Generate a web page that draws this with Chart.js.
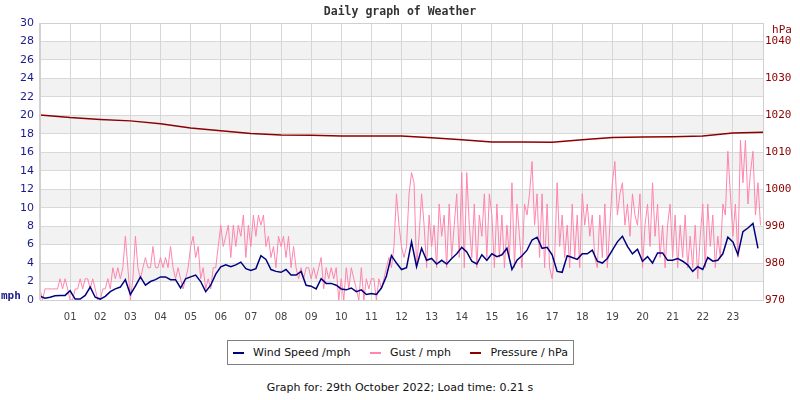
<!DOCTYPE html>
<html>
<head>
<meta charset="utf-8">
<title>Daily graph of Weather</title>
<script src="https://cdn.jsdelivr.net/npm/chart.js@4/dist/chart.umd.min.js"></script>
<style>
  body { margin: 0; background: #fff; width: 800px; height: 400px; position: relative; overflow: hidden; }
  #wrap { position: absolute; left: 0; top: 0; width: 800px; height: 330px; }
  #legend {
    position: absolute; left: 227px; top: 340px; width: 347px; height: 25px;
    box-sizing: border-box; border: 1px solid #808080;
    display: flex; align-items: center; justify-content: space-between; padding: 0 5px 0 5px;
    font: 11px "DejaVu Sans", sans-serif; color: #111;
  }
  #legend span.sw { display: inline-block; width: 11px; height: 2px; margin-right: 9px; vertical-align: middle; }
  #footer {
    position: absolute; left: 0; width: 800px; top: 381px; text-align: center;
    font: 11px "DejaVu Sans", sans-serif; color: #111;
  }
</style>
</head>
<body>
<div id="wrap"><canvas id="weatherChart" width="800" height="330"></canvas></div>
<div id="legend"></div>
<div id="footer">Graph for: 29th October 2022; Load time: 0.21 s</div>
<script>
// hour labels on the time axis
const hourLabels = ['01','02','03','04','05','06','07','08','09','10','11','12',
                    '13','14','15','16','17','18','19','20','21','22','23'];

// wind speed (mph), one reading every 10 minutes from 00:00
const windStep = 10 / 60;
const windSpeed = [
  0.4, 0.2, 0.3, 0.45, 0.5, 0.5,
  1.0, 0.1, 0.1, 0.5, 1.4, 0.3,
  0.1, 0.4, 0.9, 1.2, 1.4, 2.2,
  0.6, 1.5, 2.5, 1.6, 2.0, 2.2,
  2.5, 2.5, 2.2, 2.2, 1.3, 2.3,
  2.5, 2.7, 2.0, 0.9, 1.6, 2.8,
  3.6, 3.8, 3.6, 3.8, 4.1, 3.4,
  3.2, 3.4, 4.8, 4.4, 3.3, 3.1,
  3.0, 3.3, 2.7, 2.7, 3.1, 1.6,
  1.5, 1.2, 2.3, 1.8, 1.8, 1.6,
  1.2, 1.1, 1.3, 0.9, 1.1, 0.6,
  0.7, 0.6, 1.3, 2.6, 4.8, 4.0,
  3.3, 3.5, 6.3, 3.6, 5.6, 4.3,
  4.5, 3.9, 4.3, 3.9, 4.5, 5.0,
  5.7, 5.2, 4.2, 3.9, 4.9, 4.3,
  5.0, 4.7, 4.9, 5.6, 3.3, 4.3,
  4.8, 5.4, 6.5, 6.8, 5.6, 5.7,
  4.9, 3.1, 3.0, 4.8, 4.6, 4.4,
  5.0, 5.0, 5.4, 4.2, 4.0, 4.5,
  5.4, 6.3, 6.9, 5.8, 5.0, 5.5,
  4.2, 4.7, 4.0, 5.1, 5.1, 4.3,
  4.3, 4.5, 4.2, 3.8, 3.1, 3.6,
  3.3, 4.6, 4.2, 4.3, 5.0, 6.8,
  6.3, 4.9, 7.4, 7.8, 8.3, 5.6
];

// gust (mph), one reading every 5 minutes from 00:00
const gustStep = 5 / 60;
const gust = [
  1.2, 0, 1.2, 1.2, 1.2, 1.2, 1.2, 1.2, 2.3, 1.2, 2.3, 1.2,
  0, 0, 1.2, 1.2, 2.3, 1.2, 2.3, 2.3, 1.2, 2.3, 1.2, 0,
  0, 1.2, 1.2, 2.3, 1.2, 3.5, 2.3, 3.5, 2.3, 3.5, 6.9, 3.5,
  0, 2.3, 6.9, 3.5, 2.3, 3.5, 4.6, 3.5, 3.5, 5.8, 3.5, 3.5,
  4.6, 3.5, 4.6, 3.5, 5.8, 3.5, 2.3, 3.5, 2.3, 1.2, 2.3, 3.5,
  5.8, 6.9, 4.6, 5.8, 2.3, 3.5, 1.2, 2.3, 1.2, 3.5, 3.5, 5.8,
  8.1, 5.8, 6.9, 8.1, 4.6, 8.1, 5.8, 8.1, 6.9, 9.2, 4.6, 8.1,
  5.8, 9.2, 6.9, 9.2, 8.1, 9.2, 5.8, 6.9, 4.6, 5.8, 3.5, 6.9,
  5.8, 6.9, 4.6, 6.9, 3.5, 5.8, 3.5, 2.3, 3.5, 2.3, 3.5, 3.5,
  2.3, 3.5, 2.3, 3.5, 4.6, 1.2, 3.5, 2.3, 3.5, 2.3, 3.5, 0,
  2.3, 0, 3.5, 1.2, 3.5, 2.3, 1.2, 0, 3.5, 0, 2.3, 1.2,
  2.3, 2.3, 0, 2.3, 1.2, 2.3, 3.5, 4.6, 3.5, 5.8, 11.5, 8.1,
  5.8, 4.6, 5.8, 11.5, 13.8, 12.7, 3.5, 6.9, 11.5, 8.1, 3.5, 9.2,
  5.8, 8.1, 3.5, 10.4, 6.9, 9.2, 3.5, 10.4, 4.6, 8.1, 11.5, 4.6,
  13.8, 3.5, 13.8, 8.1, 4.6, 10.4, 3.5, 9.2, 6.9, 11.5, 4.6, 11.5,
  9.2, 3.5, 10.4, 4.6, 9.2, 3.5, 8.1, 4.6, 12.7, 3.5, 10.4, 6.9,
  3.5, 10.4, 9.2, 11.5, 15.0, 8.1, 11.5, 4.6, 11.5, 3.5, 10.4, 3.5,
  2.3, 4.6, 12.7, 5.8, 9.2, 4.6, 8.1, 3.5, 10.4, 4.6, 9.2, 3.5,
  11.5, 8.1, 10.4, 6.9, 9.2, 4.6, 3.5, 9.2, 4.6, 10.4, 3.5, 8.1,
  12.7, 15.0, 9.2, 11.5, 12.7, 8.1, 10.4, 6.9, 11.5, 9.2, 8.1, 11.5,
  3.5, 8.1, 10.4, 5.8, 12.7, 6.9, 10.4, 4.6, 8.1, 3.5, 8.1, 10.4,
  4.6, 9.2, 3.5, 8.1, 4.6, 9.2, 3.5, 6.9, 3.5, 8.1, 2.3, 6.9,
  10.4, 3.5, 10.4, 5.8, 9.2, 3.5, 6.9, 4.6, 10.4, 9.2, 16.1, 11.5,
  6.9, 10.4, 4.6, 17.3, 12.7, 17.3, 10.4, 13.8, 16.1, 9.2, 12.7, 8.1
];

// pressure (hPa), hourly from 00:00 to 24:00
const pressureStep = 1;
const pressure = [
  1020.1, 1019.4, 1018.9, 1018.5, 1017.7, 1016.6, 1015.8, 1015.1, 1014.7,
  1014.6, 1014.4, 1014.4, 1014.4, 1013.9, 1013.4, 1012.8, 1012.8, 1012.7,
  1013.4, 1014.0, 1014.1, 1014.2, 1014.4, 1015.2, 1015.4
];

const toPoints = (arr, step) => arr.map((v, i) => ({ x: i * step, y: v }));

// shaded bands, plot frame, title and axis units
const decorPlugin = {
  id: 'decor',
  beforeDraw(chart) {
    const { ctx, chartArea: a, scales } = chart;
    const y = scales.y;
    ctx.save();
    ctx.fillStyle = '#f2f2f2';
    for (let v = 2; v < 30; v += 4) {
      const top = y.getPixelForValue(v + 2), bot = y.getPixelForValue(v);
      ctx.fillRect(a.left, top, a.right - a.left, bot - top);
    }
    ctx.restore();
  },
  afterDraw(chart) {
    const { ctx, chartArea: a } = chart;
    ctx.save();
    ctx.strokeStyle = '#d0d0d0';
    ctx.lineWidth = 1;
    ctx.strokeRect(a.left + 0.5, a.top + 0.5, a.right - a.left, a.bottom - a.top);
    ctx.lineWidth = 2;
    ctx.beginPath();
    ctx.moveTo(a.left, a.top);
    ctx.lineTo(a.left, a.bottom);
    ctx.stroke();

    ctx.fillStyle = '#333';
    ctx.font = 'bold 11.5px "DejaVu Sans Mono"';
    ctx.textAlign = 'center';
    ctx.textBaseline = 'middle';
    ctx.fillText('Daily graph of Weather', 400, 12);

    ctx.fillStyle = '#1a1a8c';
    ctx.font = 'bold 11px "DejaVu Sans Mono"';
    ctx.textAlign = 'left';
    ctx.fillText('mph', 1, 296);

    ctx.fillStyle = '#8b0000';
    ctx.font = '11px "DejaVu Sans Mono"';
    ctx.textAlign = 'center';
    ctx.fillText('hPa', 782, 30);
    ctx.restore();
  }
};

const ctx = document.getElementById('weatherChart').getContext('2d');
const weatherChart = new Chart(ctx, {
  type: 'line',
  data: {
    datasets: [
      {
        label: 'Wind Speed /mph',
        data: toPoints(windSpeed, windStep),
        borderColor: '#00007f',
        borderWidth: 1.5,
        yAxisID: 'y'
      },
      {
        label: 'Gust / mph',
        data: toPoints(gust, gustStep),
        borderColor: '#ff85ad',
        borderWidth: 1,
        yAxisID: 'y'
      },
      {
        label: 'Pressure / hPa',
        data: toPoints(pressure, pressureStep),
        borderColor: '#8b0000',
        borderWidth: 1.5,
        yAxisID: 'y1'
      }
    ]
  },
  options: {
    responsive: false,
    animation: false,
    parsing: true,
    elements: { point: { radius: 0 }, line: { tension: 0 } },
    layout: { padding: { top: 23, left: 0, right: 0, bottom: 0 } },
    plugins: { legend: { display: false }, tooltip: { enabled: false }, title: { display: false } },
    scales: {
      x: {
        type: 'linear',
        min: 0,
        max: 24,
        afterFit: s => { s.height = 30; },
        border: { display: false },
        grid: { color: '#d6d6d6', drawTicks: false },
        ticks: {
          stepSize: 1,
          autoSkip: false,
          maxRotation: 0,
          padding: 11,
          color: '#444',
          font: { family: 'DejaVu Sans', size: 10 },
          callback: v => (v >= 1 && v <= 23) ? hourLabels[v - 1] : ''
        }
      },
      y: {
        position: 'left',
        min: 0,
        max: 30,
        afterFit: s => { s.width = 40; },
        border: { display: false },
        grid: { color: '#d8d8d8', drawTicks: false },
        ticks: {
          stepSize: 2,
          padding: 6,
          color: '#1a1a8c',
          font: { family: 'DejaVu Sans', size: 11 }
        }
      },
      y1: {
        position: 'right',
        min: 970,
        max: 1045,
        afterFit: s => { s.width = 37; },
        border: { display: false },
        grid: { display: false, drawTicks: false },
        ticks: {
          stepSize: 10,
          padding: 2,
          color: '#8b0000',
          font: { family: 'DejaVu Sans Mono', size: 11 },
          callback: v => (v % 10 === 0) ? v : null
        }
      }
    }
  },
  plugins: [decorPlugin]
});

// legend built from the chart's datasets
const legendEl = document.getElementById('legend');
weatherChart.data.datasets.forEach(ds => {
  const item = document.createElement('div');
  item.innerHTML = '<span class="sw" style="background:' + ds.borderColor + '"></span>' + ds.label;
  legendEl.appendChild(item);
});
</script>
</body>
</html>
